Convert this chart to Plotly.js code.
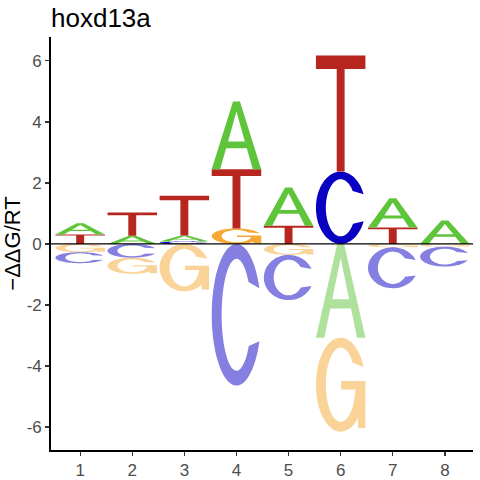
<!DOCTYPE html>
<html>
<head>
<meta charset="utf-8">
<script src="https://cdn.plot.ly/plotly-3.0.1.min.js"></script>
<style>html,body{margin:0;padding:0;background:#fff;}#chart{width:480px;height:480px;}</style>
</head>
<body>
<div id="chart"></div>
<script>
// ---- data ----
const positions = [1, 2, 3, 4, 5, 6, 7, 8];
const xTickLabels = ['1', '2', '3', '4', '5', '6', '7', '8'];
const yTickValues = [-6, -4, -2, 0, 2, 4, 6];
const yTickLabels = ['-6', '-4', '-2', '0', '2', '4', '6'];
const bases = ['A', 'C', 'G', 'T'];
const valuesA = [0.37, 0.27, 0.20, 2.22, 1.25, -3.07, 0.96, 0.77];
const valuesC = [-0.36, -0.45, 0.08, -4.64, -1.48, 2.37, -1.34, -0.65];
const valuesG = [-0.27, -0.53, -1.55, 0.51, -0.36, -3.08, -0.11, -0.09];
const valuesT = [0.31, 0.76, 1.30, 1.94, 0.60, 3.80, 0.54, 0.00];
const baseColors = {A: '#5EC43A', C: '#0A00C2', G: '#F5A834', T: '#B8271F'};
const titleText = 'hoxd13a';
const yTitleText = '\u2212\u0394\u0394G/RT';

// ---- glyph outlines in a unit box ----
function arc(cx, cy, rx, ry, a0, a1, n) {
  const pts = [];
  for (let i = 0; i <= n; i++) {
    const a = (a0 + (a1 - a0) * i / n) * Math.PI / 180;
    pts.push([cx + rx * Math.cos(a), cy + ry * Math.sin(a)]);
  }
  return pts;
}
function rect(x0, y0, x1, y1) { return [[x0, y0], [x1, y0], [x1, y1], [x0, y1]]; }
const ORX = 0.5, ORY = 0.5, IRX = 0.3, IRY = 0.395;
const LEG = 0.17, SL = 0.39, BAR0 = 0.31, BAR1 = 0.41;
const glyphs = {
  A: [
    [[0, 0], [0.43, 1], [0.57, 1], [1, 0], [1 - LEG, 0], [1 - LEG - SL * BAR0, BAR0], [LEG + SL * BAR0, BAR0], [LEG, 0]],
    [[LEG + SL * BAR1, BAR1], [1 - LEG - SL * BAR1, BAR1], [0.5, 0.85]]
  ],
  C: [
    arc(0.5, 0.5, ORX, ORY, 22, 338, 64).concat(arc(0.5, 0.5, IRX, IRY, 326, 36, 60))
  ],
  G: [
    arc(0.5, 0.5, ORX, ORY, 22, 360, 64).concat(arc(0.5, 0.5, IRX, IRY, 360, 36, 60)),
    rect(0.51, 0.45, 1.0, 0.54),
    rect(0.85, 0.04, 1.0, 0.54)
  ],
  T: [
    rect(0, 0.885, 1, 1),
    rect(0.42, 0, 0.58, 0.885)
  ]
};
const letterWidth = 0.95;

function glyphPath(base, xc, y0, y1) {
  const x0 = xc - letterWidth / 2;
  const h = y1 - y0;
  return glyphs[base].map(ring =>
    'M' + ring.map(p => (x0 + p[0] * letterWidth).toFixed(4) + ',' + (y0 + p[1] * h).toFixed(4)).join('L') + 'Z'
  ).join(' ');
}

const valuesByBase = {A: valuesA, C: valuesC, G: valuesG, T: valuesT};
const shapes = [];
positions.forEach((pos, i) => {
  const items = bases.map(b => ({b: b, v: valuesByBase[b][i]})).filter(d => d.v !== 0);
  const pos_ = items.filter(d => d.v > 0).sort((a, b) => a.v - b.v);
  const neg_ = items.filter(d => d.v < 0).sort((a, b) => b.v - a.v);
  let cum = 0;
  pos_.forEach(d => {
    shapes.push({type: 'path', xref: 'x', yref: 'y', path: glyphPath(d.b, pos, cum, cum + d.v),
      fillcolor: baseColors[d.b], line: {width: 0}, fillrule: 'nonzero', layer: 'above'});
    cum += d.v;
  });
  cum = 0;
  neg_.forEach(d => {
    shapes.push({type: 'path', xref: 'x', yref: 'y', path: glyphPath(d.b, pos, cum + d.v, cum),
      fillcolor: baseColors[d.b], opacity: 0.5, line: {width: 0}, fillrule: 'nonzero', layer: 'above'});
    cum += d.v;
  });
});
// zero reference line
shapes.push({type: 'line', xref: 'paper', yref: 'y', x0: 0, x1: 1, y0: 0, y1: 0,
  line: {color: '#000', width: 1.3}, layer: 'above'});

const font = 'Liberation Sans, Arial, sans-serif';
const traces = [{x: positions, y: positions.map(() => 0), type: 'scatter', mode: 'markers',
  marker: {opacity: 0}, hoverinfo: 'skip', showlegend: false}];

const layout = {
  width: 480, height: 480,
  margin: {l: 51, r: 7, t: 37, b: 30},
  paper_bgcolor: '#fff', plot_bgcolor: '#fff',
  font: {family: font},
  showlegend: false,
  title: {text: titleText, font: {family: font, size: 26, color: '#000'},
    x: 51 / 480, xref: 'container', xanchor: 'left', y: 1 - 18 / 480, yref: 'container', yanchor: 'middle'},
  xaxis: {range: [0.44, 8.54], tickvals: positions, ticktext: xTickLabels,
    ticks: 'outside', ticklen: 4, tickwidth: 1.3, tickcolor: '#333',
    showline: true, linecolor: '#000', linewidth: 1.8, showgrid: false, zeroline: false,
    tickfont: {family: font, size: 17, color: '#4d4d4d'}, fixedrange: true},
  yaxis: {range: [-6.75, 6.78], tickvals: yTickValues, ticktext: yTickLabels,
    ticks: 'outside', ticklen: 4, tickwidth: 1.3, tickcolor: '#333',
    showline: true, linecolor: '#000', linewidth: 1.8, showgrid: false, zeroline: false,
    tickfont: {family: font, size: 17, color: '#4d4d4d'}, fixedrange: true,
    title: {text: yTitleText, font: {family: font, size: 22, color: '#000'}, standoff: 4}},
  shapes: shapes
};

Plotly.newPlot('chart', traces, layout, {staticPlot: true, displayModeBar: false});
</script>
</body>
</html>
